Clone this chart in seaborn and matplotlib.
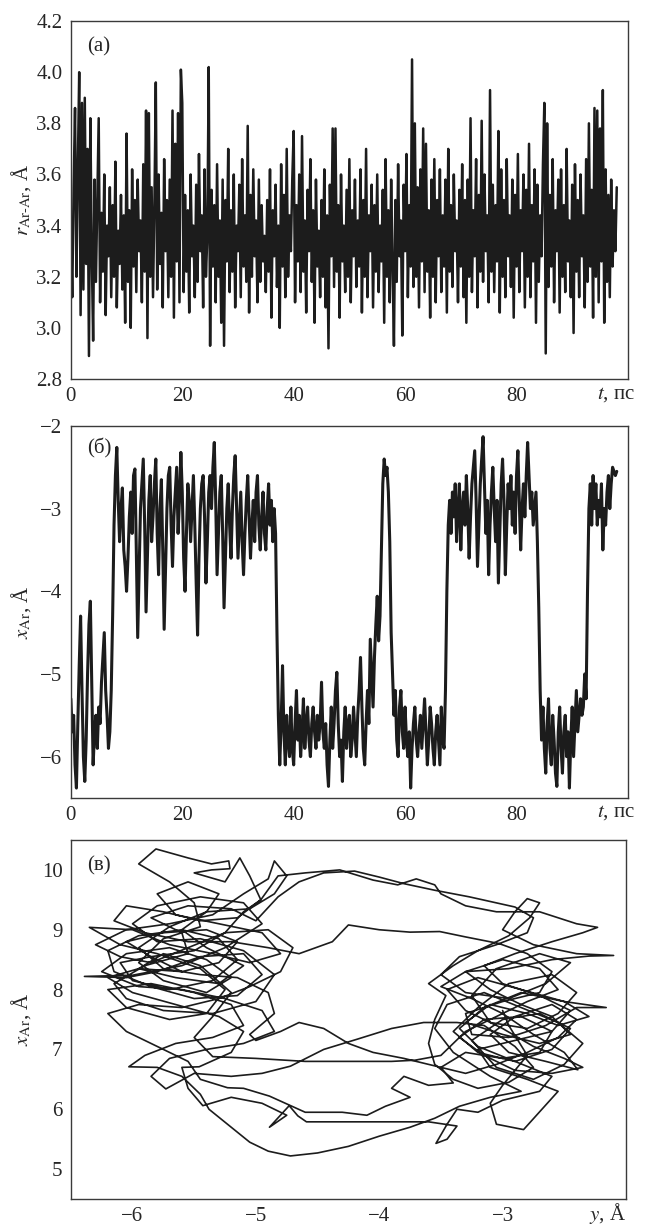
## Ar-Ar distance, Ar coordinate vs time, and Ar trajectory in the (y, x) plane.

import numpy as np
import pandas as pd
import matplotlib
matplotlib.use('Agg')
import matplotlib.pyplot as plt
import seaborn as sns

DT = 0.25  # ps between samples

# (a) r_Ar-Ar, Angstrom
r_arar = [
    3.40, 3.12, 3.55, 3.86, 3.20, 3.62, 4.00, 3.05, 3.88, 3.15, 3.90, 3.25, 3.70, 2.89, 3.82, 3.30, 2.95, 3.58, 3.18, 3.50,
    3.82, 3.10, 3.45, 3.22, 3.60, 3.05, 3.40, 3.28, 3.55, 3.12, 3.48, 3.20, 3.65, 3.08, 3.38, 3.25, 3.52, 3.15, 3.44, 3.02,
    3.76, 3.18, 3.46, 3.00, 3.62, 3.24, 3.50, 3.14, 3.58, 3.30, 3.42, 3.10, 3.64, 3.22, 3.85, 2.96, 3.84, 3.20, 3.55, 3.12,
    3.48, 3.96, 3.15, 3.60, 3.25, 3.45, 3.08, 3.66, 3.30, 3.50, 3.12, 3.58, 3.20, 3.85, 3.04, 3.72, 3.26, 3.84, 3.10, 4.01,
    3.88, 3.14, 3.52, 3.22, 3.46, 3.06, 3.60, 3.28, 3.40, 3.12, 3.56, 3.18, 3.68, 3.30, 3.44, 3.08, 3.62, 3.20, 3.36, 4.02,
    2.93, 3.54, 3.24, 3.48, 3.10, 3.64, 3.20, 3.42, 3.02, 3.58, 2.93, 3.50, 3.26, 3.70, 3.14, 3.46, 3.22, 3.60, 3.08, 3.40,
    3.30, 3.56, 3.12, 3.66, 3.24, 3.44, 3.18, 3.79, 3.06, 3.52, 3.20, 3.62, 3.28, 3.42, 3.10, 3.58, 3.18, 3.48, 3.26, 3.36,
    3.14, 3.50, 3.22, 3.62, 3.04, 3.46, 3.28, 3.56, 3.16, 3.40, 3.00, 3.64, 3.24, 3.52, 3.12, 3.70, 3.20, 3.44, 3.30, 3.58,
    3.77, 3.10, 3.48, 3.26, 3.60, 3.14, 3.75, 3.22, 3.42, 3.06, 3.54, 3.30, 3.66, 3.18, 3.46, 3.02, 3.58, 3.24, 3.38, 3.12,
    3.50, 3.20, 3.62, 3.08, 3.44, 2.92, 3.56, 3.28, 3.78, 3.16, 3.78, 3.22, 3.48, 3.04, 3.60, 3.26, 3.40, 3.14, 3.54, 3.20,
    3.66, 3.10, 3.46, 3.28, 3.58, 3.16, 3.42, 3.24, 3.62, 3.06, 3.50, 3.20, 3.70, 3.12, 3.44, 3.30, 3.56, 3.08, 3.48, 3.22,
    3.60, 3.14, 3.40, 3.26, 3.54, 3.02, 3.66, 3.20, 3.46, 3.10, 3.58, 3.24, 2.93, 3.50, 3.18, 3.64, 3.28, 3.42, 2.97, 3.56,
    3.30, 3.68, 3.12, 3.48, 3.24, 4.05, 3.16, 3.80, 3.20, 3.55, 3.08, 3.62, 3.26, 3.78, 3.14, 3.72, 3.22, 3.46, 3.04, 3.58,
    3.20, 3.66, 3.10, 3.50, 3.28, 3.62, 3.14, 3.44, 3.24, 3.58, 3.06, 3.70, 3.22, 3.48, 3.16, 3.60, 3.30, 3.42, 3.10, 3.54,
    3.24, 3.64, 3.12, 3.50, 3.02, 3.58, 3.20, 3.82, 3.14, 3.46, 3.28, 3.66, 3.08, 3.52, 3.22, 3.81, 3.18, 3.60, 3.30, 3.44,
    3.10, 3.93, 3.22, 3.56, 3.14, 3.48, 3.26, 3.77, 3.06, 3.62, 3.20, 3.50, 3.12, 3.66, 3.28, 3.44, 3.16, 3.58, 3.04, 3.52,
    3.24, 3.68, 3.14, 3.46, 3.30, 3.60, 3.08, 3.54, 3.20, 3.72, 3.12, 3.48, 3.26, 3.62, 3.02, 3.56, 3.18, 3.44, 3.28, 3.64,
    3.88, 2.90, 3.80, 3.16, 3.52, 3.24, 3.66, 3.10, 3.46, 3.30, 3.58, 3.06, 3.62, 3.20, 3.48, 3.14, 3.70, 3.26, 3.42, 3.12,
    3.56, 2.98, 3.64, 3.22, 3.50, 3.12, 3.60, 3.28, 3.44, 3.08, 3.66, 3.18, 3.80, 3.24, 3.54, 3.04, 3.86, 3.20, 3.85, 3.10,
    3.78, 3.26, 3.93, 3.02, 3.62, 3.18, 3.52, 3.12, 3.58, 3.24, 3.46, 3.30, 3.55,
]

# (b) x coordinate of Ar, Angstrom
x_ar = [
    -5.30, -5.70, -5.50, -6.10, -6.38, -5.60, -4.90, -4.30, -5.20, -6.00, -6.30, -5.80, -5.00, -4.40, -4.12, -5.10, -6.10, -5.70, -5.50, -5.90,
    -5.40, -5.60, -5.10, -4.80, -4.50, -5.20, -5.50, -5.90, -5.70, -5.20, -4.30, -3.20, -2.60, -2.26, -2.90, -3.40, -3.00, -2.75, -3.50, -3.70,
    -4.00, -3.60, -3.10, -2.80, -3.30, -2.60, -2.52, -3.50, -4.56, -3.80, -3.00, -2.70, -2.40, -3.20, -4.25, -3.60, -2.90, -2.60, -3.40, -3.10,
    -2.70, -2.40, -3.30, -3.80, -3.00, -2.65, -3.50, -4.46, -3.70, -3.00, -2.60, -2.50, -3.20, -3.70, -3.10, -2.80, -2.50, -3.30, -2.90, -2.32,
    -2.80, -3.60, -4.00, -3.30, -2.70, -2.90, -3.40, -3.00, -2.60, -3.20, -3.90, -4.53, -3.60, -3.00, -2.70, -2.60, -3.10, -3.90, -3.40, -2.80,
    -2.60, -3.00, -2.50, -2.20, -2.90, -3.80, -3.30, -2.80, -2.60, -3.30, -4.20, -3.60, -3.00, -2.70, -3.20, -3.60, -3.00, -2.60, -2.36, -3.00,
    -3.60, -3.20, -2.80, -3.40, -3.80, -3.30, -2.90, -2.60, -3.10, -3.60, -3.20, -2.90, -3.40, -2.80, -2.60, -3.20, -3.50, -3.10, -2.80, -3.30,
    -3.50, -3.00, -2.70, -3.20, -2.90, -3.40, -3.00, -3.30, -4.50, -5.50, -6.10, -5.60, -4.90, -5.70, -6.10, -5.50, -5.80, -6.00, -5.40, -5.90,
    -6.10, -5.60, -5.20, -5.80, -5.50, -6.00, -5.70, -5.30, -5.90, -5.60, -5.40, -5.80, -6.00, -5.60, -5.40, -5.70, -5.90, -5.50, -5.80, -5.60,
    -5.10, -5.70, -5.90, -5.60, -6.10, -6.36, -5.80, -5.40, -5.90, -5.60, -5.20, -4.98, -5.60, -6.00, -5.80, -6.30, -5.70, -5.40, -5.90, -5.60,
    -5.50, -6.00, -5.80, -5.40, -5.70, -6.00, -5.50, -5.20, -4.80, -5.40, -5.90, -6.10, -5.60, -5.20, -5.60, -4.58, -5.00, -5.40, -4.80, -4.40,
    -4.06, -4.60, -4.30, -3.50, -2.70, -2.40, -2.60, -2.50, -2.80, -3.40, -4.50, -5.00, -5.50, -5.20, -5.80, -6.00, -5.40, -5.20, -5.70, -5.90,
    -5.40, -5.80, -6.00, -5.70, -6.38, -5.90, -5.60, -5.40, -5.80, -6.00, -5.70, -5.50, -5.90, -5.60, -5.30, -5.70, -6.10, -5.80, -5.40, -5.60,
    -5.90, -6.10, -5.70, -5.50, -5.80, -6.10, -5.40, -5.80, -5.90, -5.20, -4.00, -3.20, -2.90, -3.30, -2.80, -3.10, -2.70, -3.40, -3.00, -2.70,
    -3.50, -3.00, -2.80, -3.20, -2.60, -3.00, -3.60, -3.10, -2.70, -2.50, -2.30, -2.90, -3.70, -3.20, -2.70, -2.40, -2.13, -2.70, -3.30, -2.90,
    -3.80, -3.20, -2.80, -2.50, -3.00, -3.40, -2.90, -3.90, -3.30, -2.70, -2.40, -2.90, -3.80, -3.20, -2.70, -3.00, -2.60, -3.20, -2.80, -3.30,
    -2.60, -2.30, -2.90, -3.50, -3.00, -2.70, -3.10, -2.60, -2.20, -2.60, -3.00, -2.80, -3.20, -3.00, -2.80, -3.40, -4.20, -5.20, -5.80, -5.40,
    -5.90, -6.20, -5.60, -5.30, -5.90, -6.10, -5.50, -5.80, -6.20, -6.36, -5.70, -5.40, -5.90, -6.20, -5.70, -5.50, -6.00, -5.70, -6.38, -5.80,
    -5.40, -6.00, -5.60, -5.20, -5.70, -5.50, -5.30, -5.50, -5.40, -5.00, -5.30, -4.00, -3.00, -2.70, -3.20, -2.60, -3.00, -2.70, -3.20, -2.90,
    -3.10, -2.70, -3.50, -3.00, -3.20, -2.80, -2.60, -3.00, -2.70, -2.50, -2.55, -2.60, -2.55,
]

# (c) trajectory pieces, (y, x) in Angstrom, in time order
left_1 = [(-5.6, 8.3), (-5.85, 8.55), (-6.1, 8.45), (-6.0, 8.15), (-5.7, 8.0), (-5.35, 8.15), (-5.15, 8.5),
          (-5.3, 8.85), (-5.6, 9.0), (-5.95, 8.9), (-6.2, 8.65), (-6.15, 8.3), (-5.85, 8.05), (-5.5, 7.85),
          (-5.15, 7.9), (-4.95, 8.25), (-5.1, 8.6), (-5.45, 8.55), (-5.8, 8.3), (-6.05, 8.2), (-6.39, 8.22),
          (-6.0, 8.24), (-5.6, 8.4), (-5.25, 8.7), (-4.95, 9.1), (-5.1, 9.45), (-5.45, 9.55), (-5.8, 9.4),
          (-6.0, 9.1), (-5.8, 8.8), (-5.45, 8.85), (-5.1, 8.65), (-4.85, 8.25), (-5.0, 7.8), (-5.35, 7.6),
          (-5.75, 7.65), (-6.05, 7.85), (-6.15, 8.1), (-5.9, 8.4), (-5.55, 8.6), (-5.6, 8.95), (-5.85, 9.2),
          (-5.55, 9.4), (-5.2, 9.35), (-5.0, 9.15)]
top_1 = [(-4.82, 9.55), (-4.65, 9.8), (-4.45, 9.95), (-4.2, 9.98), (-4.0, 9.88), (-3.8, 9.77), (-3.55, 9.66),
         (-3.27, 9.55), (-3.05, 9.45), (-2.9, 9.38)]
right_1 = [(-2.75, 9.2), (-2.8, 8.95), (-3.05, 8.75), (-3.35, 8.55), (-3.5, 8.25), (-3.3, 7.95), (-2.95, 7.85),
           (-2.65, 8.1), (-2.45, 8.45), (-2.7, 8.6), (-3.05, 8.35), (-3.25, 7.9), (-3.1, 7.45), (-2.8, 7.35),
           (-2.55, 7.6), (-2.4, 7.95), (-2.6, 8.25), (-2.95, 8.1), (-3.2, 7.7), (-3.4, 7.3), (-3.2, 6.95),
           (-2.9, 6.8), (-2.6, 7.0), (-2.45, 7.35), (-2.7, 7.6), (-3.0, 7.5), (-3.25, 7.15), (-3.05, 6.7),
           (-2.75, 6.5), (-2.5, 6.75), (-2.35, 7.1), (-2.55, 7.45), (-2.85, 7.7), (-3.15, 7.95), (-3.45, 7.75),
           (-3.55, 7.35), (-3.4, 6.95), (-3.1, 6.55), (-2.85, 6.3), (-3.1, 6.2), (-3.35, 6.05)]
bottom_1 = [(-3.55, 5.85), (-3.75, 5.7), (-4.0, 5.55), (-4.25, 5.38), (-4.5, 5.27), (-4.72, 5.22), (-4.9, 5.3),
            (-5.05, 5.45), (-5.2, 5.7), (-5.32, 5.9), (-5.38, 6.0)]
left_2 = [(-5.45, 6.25), (-5.6, 6.55), (-5.8, 6.7), (-6.03, 6.71), (-5.9, 6.9), (-5.65, 7.1), (-5.35, 7.2),
          (-5.1, 7.4), (-5.2, 7.75), (-5.5, 7.95), (-5.85, 8.1), (-6.2, 8.0), (-6.05, 7.7), (-5.7, 7.5),
          (-5.4, 7.6), (-5.25, 8.0), (-5.45, 8.35), (-5.8, 8.6), (-6.1, 8.75), (-6.35, 9.04), (-6.0, 9.0),
          (-5.7, 8.75), (-5.35, 8.6), (-5.05, 8.45), (-4.8, 8.6), (-4.95, 8.95), (-5.3, 9.1), (-5.65, 9.25),
          (-5.8, 9.6), (-5.55, 9.8), (-5.3, 9.6), (-5.4, 9.3), (-5.7, 9.05), (-5.95, 8.7), (-5.75, 8.35),
          (-5.45, 8.25), (-5.15, 8.2), (-4.9, 7.95), (-4.85, 7.6), (-5.05, 7.25), (-5.0, 7.15)]
mid_1 = [(-4.8, 7.3), (-4.65, 7.45), (-4.45, 7.35), (-4.25, 7.1), (-4.05, 6.95), (-3.8, 6.85), (-3.54, 6.72)]
right_2 = [(-3.3, 6.6), (-3.05, 6.75), (-2.8, 6.95), (-2.55, 7.2), (-2.4, 7.5), (-2.6, 7.75), (-2.9, 7.55),
           (-3.1, 7.25), (-2.95, 6.95), (-2.65, 6.8), (-2.39, 6.66), (-2.5, 6.95), (-2.75, 7.25), (-3.0, 7.6),
           (-3.25, 7.85), (-3.5, 8.05), (-3.3, 8.3), (-2.95, 8.35), (-2.6, 8.5), (-2.3, 8.56), (-2.1, 8.57),
           (-2.4, 8.6), (-2.75, 8.75), (-3.0, 9.0), (-2.9, 9.3), (-2.8, 9.52), (-2.7, 9.45), (-2.78, 9.2),
           (-2.95, 8.9), (-3.2, 8.65), (-3.4, 8.4), (-3.6, 8.1), (-3.46, 7.9), (-3.55, 7.5), (-3.6, 7.1),
           (-3.55, 6.75), (-3.4, 6.5), (-3.2, 6.35), (-2.95, 6.45), (-2.75, 6.7), (-2.9, 7.05), (-3.15, 7.4),
           (-3.37, 7.45)]
mid_2 = [(-3.64, 7.45), (-3.9, 7.35), (-4.18, 7.17), (-4.45, 7.0), (-4.72, 6.72), (-4.95, 6.6), (-5.2, 6.55)]
left_3 = [(-5.5, 6.6), (-5.73, 6.34), (-5.85, 6.55), (-5.7, 6.85), (-5.4, 7.0), (-5.1, 7.1), (-4.85, 7.3),
          (-4.95, 7.65), (-5.25, 7.85), (-5.6, 8.0), (-5.95, 8.05), (-6.25, 8.3), (-6.05, 8.6), (-5.7, 8.7),
          (-5.4, 8.5), (-5.2, 8.2), (-5.4, 7.95), (-5.75, 8.15), (-5.95, 8.45), (-5.75, 8.85), (-5.45, 9.05),
          (-5.5, 9.45), (-5.7, 9.8), (-5.95, 10.1), (-5.81, 10.35), (-5.55, 10.2), (-5.36, 10.1), (-5.22, 10.15),
          (-5.21, 10.02), (-5.36, 10.0), (-5.5, 9.95), (-5.25, 9.8), (-5.13, 10.2), (-5.05, 9.9), (-4.96, 9.5),
          (-5.15, 9.2), (-5.45, 9.15), (-5.75, 9.3), (-6.05, 9.4), (-6.15, 9.15), (-5.9, 8.95), (-5.55, 8.8),
          (-5.2, 8.8), (-4.9, 8.7), (-4.65, 8.6)]
top_2 = [(-4.38, 8.8), (-4.25, 9.08), (-4.0, 9.0), (-3.75, 8.96), (-3.51, 8.97), (-3.3, 8.88), (-3.03, 8.77)]
right_3 = [(-2.8, 8.6), (-2.6, 8.3), (-2.7, 7.95), (-3.0, 7.8), (-3.3, 7.6), (-3.25, 7.25), (-2.95, 7.2),
           (-2.65, 7.4), (-2.4, 7.7), (-2.16, 7.7), (-2.5, 7.8), (-2.85, 8.0), (-3.2, 8.2), (-3.45, 8.0),
           (-3.3, 7.65), (-3.0, 7.35), (-2.75, 7.05), (-2.5, 6.85), (-2.35, 6.7), (-2.6, 6.6), (-2.9, 6.65),
           (-3.15, 6.9), (-3.35, 7.2), (-3.15, 7.5), (-2.85, 7.55), (-2.6, 7.3), (-2.7, 6.95), (-3.0, 6.85),
           (-3.3, 6.95), (-3.5, 6.7), (-3.4, 6.44)]
bottom_2 = [(-3.6, 6.4), (-3.8, 6.55), (-3.9, 6.35), (-3.75, 6.2), (-3.95, 6.05), (-4.1, 5.9), (-4.3, 5.95),
            (-4.6, 5.95), (-4.89, 6.22), (-5.1, 6.35), (-5.23, 6.36)]
left_4 = [(-5.45, 6.5), (-5.55, 6.8), (-5.8, 7.05), (-6.05, 7.3), (-6.2, 7.6), (-5.95, 7.75), (-5.6, 7.7),
          (-5.3, 7.85), (-5.05, 8.05), (-4.8, 8.3), (-4.7, 8.7), (-4.9, 9.0), (-5.25, 8.95), (-5.55, 8.7),
          (-5.85, 8.45), (-6.1, 8.55), (-6.3, 8.75), (-6.05, 9.0), (-5.7, 9.1), (-5.35, 9.25), (-5.1, 9.6),
          (-4.9, 9.85), (-4.85, 10.15), (-4.75, 9.9), (-4.85, 9.6), (-5.05, 9.35), (-5.4, 9.3), (-5.6, 9.0),
          (-5.4, 8.7), (-5.1, 8.4), (-5.3, 8.1), (-5.65, 8.2), (-5.95, 8.35), (-5.75, 8.6), (-5.45, 8.4),
          (-5.2, 7.95), (-5.35, 7.55), (-5.5, 7.2), (-5.35, 6.88)]
mid_3 = [(-5.0, 6.85), (-4.6, 6.8), (-4.2, 6.8), (-3.9, 6.8), (-3.71, 6.82)]
right_4 = [(-3.5, 6.9), (-3.3, 7.3), (-3.05, 7.55), (-2.8, 7.8), (-2.55, 8.0), (-2.7, 8.35), (-3.0, 8.5),
           (-3.3, 8.3), (-3.1, 8.0), (-2.85, 7.75), (-2.6, 7.55), (-2.45, 7.25), (-2.7, 7.1), (-3.0, 7.25),
           (-3.3, 7.45), (-3.1, 7.75), (-2.8, 7.6), (-2.55, 7.4), (-2.3, 7.55), (-2.5, 7.8), (-2.85, 7.95),
           (-3.15, 7.7), (-3.35, 7.35), (-3.2, 7.05), (-2.9, 6.8), (-2.6, 6.55), (-2.7, 6.3), (-3.0, 6.15),
           (-3.2, 5.95), (-3.37, 6.0)]
bottom_3 = [(-3.45, 5.75), (-3.54, 5.43), (-3.45, 5.5), (-3.37, 5.72), (-3.6, 5.79), (-3.9, 5.79), (-4.2, 5.79),
            (-4.59, 5.79), (-4.66, 5.89), (-4.73, 6.06), (-4.89, 5.7), (-4.75, 5.9), (-4.95, 6.1), (-5.2, 6.2),
            (-5.43, 6.06)]
left_5 = [(-5.55, 6.35), (-5.6, 6.7), (-5.46, 6.71), (-5.2, 6.95), (-5.1, 7.3), (-5.3, 7.55), (-5.65, 7.75),
          (-6.0, 7.95), (-6.2, 8.2), (-5.95, 8.35), (-5.6, 8.3), (-5.3, 8.45), (-5.15, 8.8), (-5.4, 9.0),
          (-5.75, 8.95), (-6.05, 8.8), (-5.85, 8.55), (-5.5, 8.65), (-5.25, 8.95), (-5.1, 9.3), (-4.96, 9.5),
          (-4.82, 9.9)]
top_3 = [(-4.6, 9.95), (-4.32, 10.0), (-4.05, 9.83), (-3.85, 9.75), (-3.7, 9.85), (-3.55, 9.75), (-3.5, 9.6),
         (-3.3, 9.4), (-3.05, 9.3), (-2.7, 9.3), (-2.4, 9.1), (-2.23, 9.04), (-2.35, 8.95)]
right_5 = [(-2.6, 8.8), (-2.9, 8.6), (-3.15, 8.4), (-3.0, 8.1), (-2.7, 7.9), (-2.45, 7.65), (-2.6, 7.3),
           (-2.9, 7.15), (-3.2, 7.0), (-3.1, 6.7), (-2.8, 6.5), (-2.55, 6.3), (-2.83, 5.66), (-3.05, 5.75),
           (-3.1, 6.1), (-3.0, 6.4), (-2.8, 6.9), (-2.95, 7.4), (-3.0, 7.65)]

LINE = '#1c1c1c'
FRAME = '#3a3a3a'


def style_axes(ax):
    for s in ax.spines.values():
        s.set_visible(True)
        s.set_color(FRAME)
        s.set_linewidth(1.0)
    ax.tick_params(direction='in', length=6, width=1.0, color=FRAME,
                   labelsize=15, pad=6, top=False, right=False)
    ax.grid(False)


def main():
    sns.set_theme(style='white')
    plt.rcParams['font.family'] = ['Liberation Serif', 'DejaVu Serif']
    plt.rcParams['mathtext.fontset'] = 'stix'
    plt.rcParams['axes.unicode_minus'] = True

    fig = plt.figure(figsize=(6.5, 12.25), dpi=100)
    ax_a = fig.add_axes([0.109, 0.6906, 0.857, 0.2922])
    ax_b = fig.add_axes([0.109, 0.3486, 0.857, 0.3037])
    ax_c = fig.add_axes([0.109, 0.0212, 0.854, 0.2931])

    # (a) Ar-Ar distance
    df_a = pd.DataFrame({'t': np.arange(len(r_arar)) * DT, 'r': r_arar})
    sns.lineplot(data=df_a, x='t', y='r', ax=ax_a, color=LINE, linewidth=1.8,
                 estimator=None, sort=False)
    ax_a.set_xlim(0, 100)
    ax_a.set_ylim(2.8, 4.2)
    ax_a.set_xticks([0, 20, 40, 60, 80])
    ax_a.set_yticks(np.arange(2.8, 4.21, 0.2))
    ax_a.yaxis.set_major_formatter(matplotlib.ticker.FormatStrFormatter('%.1f'))
    ax_a.set_ylabel(r'$r_{\mathrm{Ar}\text{-}\mathrm{Ar}}$, Å', fontsize=15)
    ax_a.set_xlabel(r'$t$, пс', fontsize=15, ha='right', va='center')
    ax_a.xaxis.set_label_coords(1.013, -0.042)
    ax_a.yaxis.set_label_coords(-0.068, 0.5)
    ax_a.text(0.03, 0.955, '(а)', transform=ax_a.transAxes, fontsize=15, va='top', ha='left')
    style_axes(ax_a)

    # (b) x coordinate of Ar
    df_b = pd.DataFrame({'t': np.arange(len(x_ar)) * DT, 'x': x_ar})
    sns.lineplot(data=df_b, x='t', y='x', ax=ax_b, color=LINE, linewidth=2.2,
                 estimator=None, sort=False)
    ax_b.set_xlim(0, 100)
    ax_b.set_ylim(-6.5, -2)
    ax_b.set_xticks([0, 20, 40, 60, 80])
    ax_b.set_yticks([-6, -5, -4, -3, -2])
    ax_b.set_ylabel(r'$x_{\mathrm{Ar}}$, Å', fontsize=15)
    ax_b.set_xlabel(r'$t$, пс', fontsize=15, ha='right', va='center')
    ax_b.xaxis.set_label_coords(1.013, -0.04)
    ax_b.yaxis.set_label_coords(-0.068, 0.5)
    ax_b.text(0.03, 0.965, '(б)', transform=ax_b.transAxes, fontsize=15, va='top', ha='left')
    style_axes(ax_b)

    # (c) trajectory in the (y, x) plane
    pieces = [left_1, top_1, right_1, bottom_1, left_2, mid_1, right_2, mid_2, left_3, top_2,
              right_3, bottom_2, left_4, mid_3, right_4, bottom_3, left_5, top_3, right_5]
    path = np.array([p for piece in pieces for p in piece])
    df_c = pd.DataFrame({'y': path[:, 0], 'x': path[:, 1]})
    sns.lineplot(data=df_c, x='y', y='x', ax=ax_c, color=LINE, linewidth=1.2,
                 estimator=None, sort=False)
    ax_c.set_xlim(-6.5, -2)
    ax_c.set_ylim(4.5, 10.5)
    ax_c.set_xticks([-6, -5, -4, -3])
    ax_c.set_yticks([5, 6, 7, 8, 9, 10])
    ax_c.set_ylabel(r'$x_{\mathrm{Ar}}$, Å', fontsize=15)
    ax_c.set_xlabel(r'$y$, Å', fontsize=15, ha='right', va='center')
    ax_c.xaxis.set_label_coords(1.0, -0.04)
    ax_c.yaxis.set_label_coords(-0.068, 0.5)
    ax_c.text(0.03, 0.955, '(в)', transform=ax_c.transAxes, fontsize=15, va='top', ha='left')
    style_axes(ax_c)

    fig.savefig('out.png', dpi=100)


if __name__ == '__main__':
    main()
